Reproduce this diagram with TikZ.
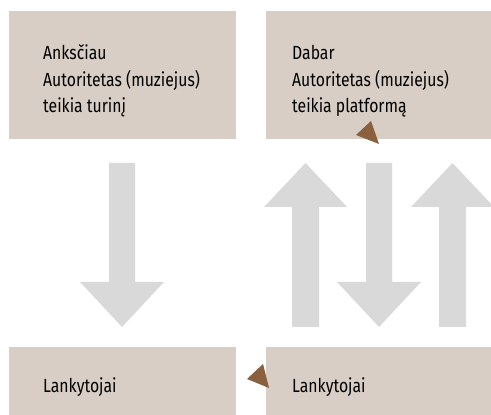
\documentclass[tikz,border=0pt]{standalone}
\usepackage{fontspec}
\setmainfont{Fira Sans}[FakeStretch=0.83]
\definecolor{boxfill}{RGB}{216,206,197}
\definecolor{arrowgray}{RGB}{217,217,217}
\definecolor{pointer}{RGB}{138,96,62}
\begin{document}
\begin{tikzpicture}[x=1pt,y=1pt,
  boxstyle/.style={fill=boxfill, draw=none, inner sep=0pt, anchor=north west},
  txt/.style={font=\fontsize{19}{26.5}\selectfont, align=left, inner sep=0pt, anchor=base west, text=black},
  bigarrow/.style={fill=arrowgray, draw=none},
  pointerstyle/.style={fill=pointer, draw=none}]
\useasboundingbox (0,0) rectangle (491,415);
% boxes
\node[boxstyle, minimum width=227pt, minimum height=128pt] (b1) at (9,404) {};
\node[boxstyle, minimum width=225pt, minimum height=128pt] (b2) at (266,404) {};
\node[boxstyle, minimum width=227pt, minimum height=68pt] (b3) at (9,68) {};
\node[boxstyle, minimum width=225pt, minimum height=68pt] (b4) at (266,68) {};
% texts
\node[txt] (t1) at (43,302) {Anksčiau\\Autoritetas (muziejus)\\teikia turinį};
\node[txt] (t2) at (292,302) {Dabar\\Autoritetas (muziejus)\\teikia platformą};
\node[txt] (t3) at (43,22) {Lankytojai};
\node[txt] (t4) at (292,22) {Lankytojai};
% big arrows
\fill[bigarrow] (109,252) -- (135,252) -- (135,133) -- (164,133) -- (122,88) -- (80,133) -- (109,133) -- cycle;
\fill[bigarrow] (366,252) -- (392,252) -- (392,133) -- (421,133) -- (379,88) -- (337,133) -- (366,133) -- cycle;
\fill[bigarrow] (292,88) -- (319,88) -- (319,208) -- (347,208) -- (305.5,252) -- (264,208) -- (292,208) -- cycle;
\fill[bigarrow] (439,88) -- (466,88) -- (466,208) -- (494,208) -- (452.5,252) -- (411,208) -- (439,208) -- cycle;
% pointers
\fill[pointerstyle] (356,280) -- (371,294) -- (379,271) -- cycle;
\fill[pointerstyle] (247,36) -- (263,51) -- (269,27) -- cycle;
\end{tikzpicture}
\end{document}
